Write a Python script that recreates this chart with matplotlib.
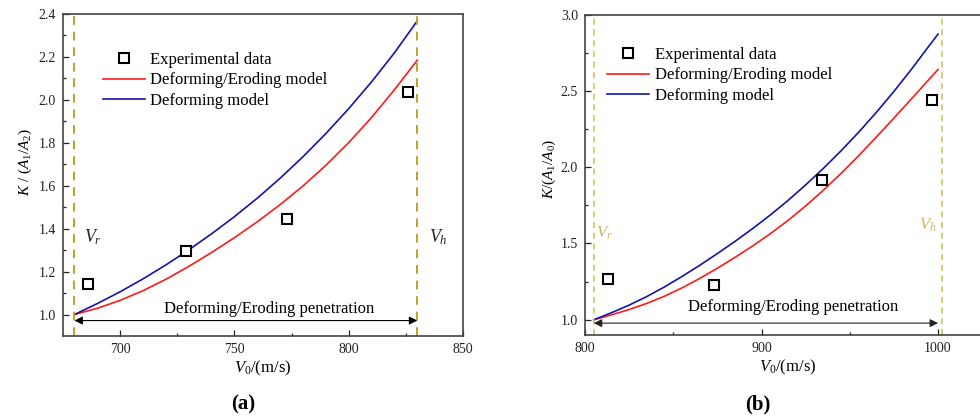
import matplotlib
matplotlib.use("Agg")
import matplotlib.pyplot as plt

plt.rcParams['font.family'] = ['Liberation Serif', 'DejaVu Serif']
plt.rcParams['mathtext.fontset'] = 'custom'
plt.rcParams['mathtext.rm'] = 'Liberation Serif'
plt.rcParams['mathtext.it'] = 'Liberation Serif:italic'
plt.rcParams['mathtext.bf'] = 'Liberation Serif:bold'

# ---------------- Panel (a) data ----------------
a_v = [680, 690, 700, 710, 720, 730, 740, 750, 760, 770, 780, 790, 800, 810, 820, 830]
a_deforming = [1.000, 1.051, 1.106, 1.166, 1.231, 1.301, 1.376, 1.456, 1.542, 1.635,
               1.735, 1.843, 1.959, 2.084, 2.219, 2.368]
a_def_erod = [1.000, 1.029, 1.066, 1.111, 1.164, 1.224, 1.289, 1.358, 1.432, 1.512,
              1.599, 1.695, 1.801, 1.918, 2.047, 2.185]
a_exp_v = [686, 729, 773, 826]
a_exp_k = [1.142, 1.296, 1.447, 2.035]
a_vr, a_vh = 680, 830

# ---------------- Panel (b) data ----------------
b_v = [805, 815, 825, 835, 845, 855, 865, 875, 885, 895, 905, 915, 925, 935, 945,
       955, 965, 975, 985, 995, 1000]
b_deforming = [1.000, 1.046, 1.096, 1.152, 1.215, 1.284, 1.357, 1.434, 1.514, 1.598,
               1.687, 1.782, 1.884, 1.992, 2.107, 2.229, 2.359, 2.497, 2.643, 2.797,
               2.873]
b_def_erod = [1.000, 1.032, 1.067, 1.107, 1.154, 1.209, 1.271, 1.338, 1.409, 1.484,
              1.564, 1.651, 1.746, 1.849, 1.959, 2.075, 2.197, 2.322, 2.449, 2.577,
              2.641]
b_exp_v = [813, 873, 934.5, 996.5]
b_exp_k = [1.265, 1.231, 1.919, 2.44]
b_vr, b_vh = 805, 1002

labels = ['Experimental data', 'Deforming/Eroding model', 'Deforming model']
RED = '#ff1a1a'
BLUE = '#1414a8'
SPINE = '#444444'

fig = plt.figure(figsize=(9.8, 4.19), dpi=100)
ax1 = fig.add_axes([63/980, 1-336/419, 400/980, 322/419])
ax2 = fig.add_axes([585/980, 1-335/419, 406/980, 320.3/419])


def style(ax):
    for s in ax.spines.values():
        s.set_color(SPINE)
        s.set_linewidth(1.2)
    ax.tick_params(which='both', direction='in', top=False, right=False,
                   colors='#222222', labelsize=10, pad=5)
    ax.tick_params(which='major', length=4.5, width=0.9)
    ax.tick_params(which='minor', length=2.5, width=0.9)


order = [2, 0, 1]

# ---- Panel (a) ----
style(ax1)
ax1.plot(a_v, a_def_erod, color=RED, lw=1.2, label=labels[1])
ax1.plot(a_v, a_deforming, color=BLUE, lw=1.2, label=labels[2])
ax1.plot(a_exp_v, a_exp_k, 's', ms=6.5, mfc='white', mec='black', mew=1.5,
         ls='none', label=labels[0])
for v in (a_vr, a_vh):
    ax1.axvline(v, color='#bfa22a', lw=1.4, ls=(0, (4.5, 3.5)))
ax1.set_xlim(675, 850)
ax1.set_ylim(0.9, 2.4)
ax1.set_xticks([700, 750, 800, 850])
ax1.set_xticks([725, 775, 825], minor=True)
ax1.set_yticks([1.0, 1.2, 1.4, 1.6, 1.8, 2.0, 2.2, 2.4])
ax1.set_yticks([1.1, 1.3, 1.5, 1.7, 1.9, 2.1, 2.3], minor=True)
ax1.yaxis.set_major_formatter(matplotlib.ticker.FormatStrFormatter('%.1f'))
ax1.set_xlabel(r'$V_0$/(m/s)', fontsize=12, labelpad=2)
ax1.set_ylabel(r'$K$ / ($A_1$/$A_2$)', fontsize=11)
ax1.yaxis.set_label_coords(-0.072, 0.54)
ax1.annotate('', xy=(a_vr, 0.972), xytext=(a_vh, 0.972),
             arrowprops=dict(arrowstyle='<|-|>', color='black', lw=0.8,
                             mutation_scale=12, shrinkA=0, shrinkB=0))
ax1.text(765, 1.028, 'Deforming/Eroding penetration', fontsize=12,
         ha='center', va='center')
ax1.text(684, 1.36, r'$V_r$', fontsize=13, ha='left', va='center', color='#222222')
ax1.text(835, 1.36, r'$V_h$', fontsize=13, ha='left', va='center', color='#222222')
h, l = ax1.get_legend_handles_labels()
ax1.legend([h[i] for i in order], [l[i] for i in order], loc='upper left',
           bbox_to_anchor=(0.10, 0.883), frameon=False, fontsize=12,
           handlelength=2.5, handletextpad=0.35, labelspacing=0.28,
           borderpad=0, borderaxespad=0)

# ---- Panel (b) ----
style(ax2)
ax2.plot(b_v, b_def_erod, color=RED, lw=1.2, label=labels[1])
ax2.plot(b_v, b_deforming, color=BLUE, lw=1.2, label=labels[2])
ax2.plot(b_exp_v, b_exp_k, 's', ms=6.5, mfc='white', mec='black', mew=1.5,
         ls='none', label=labels[0])
for v in (b_vr, b_vh):
    ax2.axvline(v, color='#d2bd55', lw=1.1, ls=(0, (4, 3)))
ax2.set_xlim(800, 1030)
ax2.set_ylim(0.9, 3.0)
ax2.set_xticks([800, 900, 1000])
ax2.set_xticks([850, 950], minor=True)
ax2.set_yticks([1.0, 1.5, 2.0, 2.5, 3.0])
ax2.set_yticks([1.25, 1.75, 2.25, 2.75], minor=True)
ax2.yaxis.set_major_formatter(matplotlib.ticker.FormatStrFormatter('%.1f'))
ax2.set_xlabel(r'$V_0$/(m/s)', fontsize=12, labelpad=2)
ax2.set_ylabel(r'$K$/($A_1$/$A_0$)', fontsize=11)
ax2.yaxis.set_label_coords(-0.066, 0.52)
ax2.annotate('', xy=(b_vr, 0.978), xytext=(1000, 0.978),
             arrowprops=dict(arrowstyle='<|-|>', color='#222222', lw=0.8,
                             mutation_scale=12, shrinkA=0, shrinkB=0))
ax2.text(918, 1.082, 'Deforming/Eroding penetration', fontsize=12,
         ha='center', va='center')
ax2.text(806, 1.57, r'$V_r$', fontsize=12, ha='left', va='center', color='#c8b45a')
ax2.text(989, 1.62, r'$V_h$', fontsize=12, ha='left', va='center', color='#c8b45a')
h, l = ax2.get_legend_handles_labels()
ax2.legend([h[i] for i in order], [l[i] for i in order], loc='upper left',
           bbox_to_anchor=(0.055, 0.90), frameon=False, fontsize=12,
           handlelength=2.5, handletextpad=0.35, labelspacing=0.28,
           borderpad=0, borderaxespad=0)

fig.text(243/980, 1-404/419, '(a)', fontsize=15, fontweight='bold',
         ha='center', va='center')
fig.text(758/980, 1-404/419, '(b)', fontsize=15, fontweight='bold',
         ha='center', va='center')

fig.savefig('out.png', dpi=100)
